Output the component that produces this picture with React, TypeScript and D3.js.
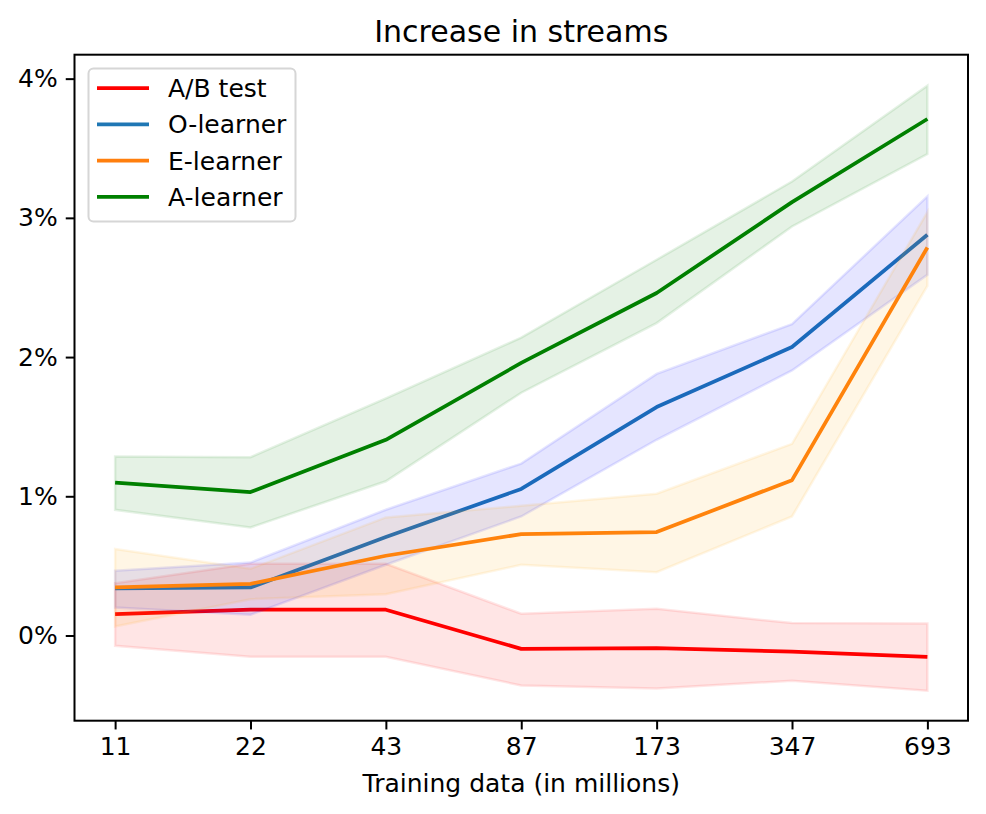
import { useEffect, useRef } from 'react';
import * as d3 from 'd3';

// Training data sizes (in millions), shown as evenly spaced categories
const sizes = ['11', '22', '43', '87', '173', '347', '693'];

// Mean increase in streams (%) and band bounds, per method
const abMean = [0.154, 0.185, 0.185, -0.096, -0.091, -0.115, -0.153];
const abLow = [-0.074, -0.153, -0.153, -0.359, -0.381, -0.325, -0.397];
const abHigh = [0.376, 0.515, 0.515, 0.156, 0.192, 0.089, 0.086];

const oMean = [0.338, 0.345, 0.707, 1.053, 1.641, 2.072, 2.879];
const oLow = [0.201, 0.149, 0.508, 0.855, 1.406, 1.904, 2.591];
const oHigh = [0.465, 0.524, 0.903, 1.235, 1.879, 2.237, 3.154];

const eMean = [0.345, 0.371, 0.573, 0.728, 0.743, 1.116, 2.787];
const eLow = [0.065, 0.261, 0.297, 0.508, 0.455, 0.855, 2.512];
const eHigh = [0.621, 0.479, 0.848, 0.932, 1.018, 1.377, 3.042];

const aMean = [1.099, 1.030, 1.406, 1.958, 2.460, 3.113, 3.710];
const aLow = [0.903, 0.776, 1.108, 1.744, 2.244, 2.938, 3.458];
const aHigh = [1.286, 1.281, 1.703, 2.140, 2.699, 3.261, 3.949];

const yTicks = [0, 1, 2, 3, 4];

const series = [
  { name: 'A/B test', line: '#ff0000', fill: '#ff0000', mean: abMean, low: abLow, high: abHigh },
  { name: 'O-learner', line: '#1f77b4', fill: '#0000ff', mean: oMean, low: oLow, high: oHigh },
  { name: 'E-learner', line: '#ff7f0e', fill: '#ffa500', mean: eMean, low: eLow, high: eHigh },
  { name: 'A-learner', line: '#008000', fill: '#008000', mean: aMean, low: aLow, high: aHigh },
];

const App = () => {
  const chartRef = useRef(null);
  const width = 986;
  const height = 814;
  const left = 74.5;
  const right = 968;
  const top = 54.7;
  const bottom = 720.7;
  const font = '"DejaVu Sans", sans-serif';

  useEffect(() => {
    const svg = d3.select(chartRef.current);
    svg.selectAll('*').remove();

    const x = d3.scaleLinear().domain([-0.3, sizes.length - 0.7]).range([left, right]);
    const y = d3.scaleLinear().domain([-0.612, 4.172]).range([bottom, top]);

    const line = d3.line<number>().x((_, i) => x(i)).y(d => y(d));

    // bands and lines
    series.forEach(s => {
      const area = d3.area<number>()
        .x((_, i) => x(i))
        .y0(d => y(d))
        .y1((_, i) => y(s.high[i]));

      svg.append('path')
        .attr('d', line(s.mean))
        .attr('fill', 'none')
        .attr('stroke', s.line)
        .attr('stroke-width', 3.75)
        .attr('stroke-linejoin', 'round');

      svg.append('path')
        .attr('d', area(s.low))
        .attr('fill', s.fill)
        .attr('fill-opacity', 0.1)
        .attr('stroke', s.fill)
        .attr('stroke-opacity', 0.1)
        .attr('stroke-width', 2.5);
    });

    // x axis
    const xAxis = svg.append('g')
      .attr('transform', `translate(0,${bottom})`)
      .call(d3.axisBottom(x)
        .tickValues(d3.range(sizes.length))
        .tickFormat(i => sizes[i as number])
        .tickSize(8.75)
        .tickPadding(8));
    xAxis.select('.domain').remove();

    // y axis
    const yAxis = svg.append('g')
      .attr('transform', `translate(${left},0)`)
      .call(d3.axisLeft(y)
        .tickValues(yTicks)
        .tickFormat(d => `${d}%`)
        .tickSize(8.75)
        .tickPadding(8));
    yAxis.select('.domain').remove();

    svg.selectAll('.tick line').attr('stroke', '#000').attr('stroke-width', 2);
    svg.selectAll('.tick text')
      .attr('fill', '#000')
      .style('font-family', font)
      .style('font-size', '25px');

    // frame
    svg.append('rect')
      .attr('x', left)
      .attr('y', top)
      .attr('width', right - left)
      .attr('height', bottom - top)
      .attr('fill', 'none')
      .attr('stroke', '#000')
      .attr('stroke-width', 2);

    // title and axis label
    svg.append('text')
      .attr('x', (left + right) / 2)
      .attr('y', 41.5)
      .attr('text-anchor', 'middle')
      .style('font-family', font)
      .style('font-size', '30px')
      .text('Increase in streams');

    svg.append('text')
      .attr('x', (left + right) / 2)
      .attr('y', 791.5)
      .attr('text-anchor', 'middle')
      .style('font-family', font)
      .style('font-size', '25px')
      .text('Training data (in millions)');

    // legend
    const legend = svg.append('g');
    legend.append('rect')
      .attr('x', 88.5)
      .attr('y', 68.5)
      .attr('width', 207)
      .attr('height', 153)
      .attr('rx', 5)
      .attr('fill', '#fff')
      .attr('fill-opacity', 0.8)
      .attr('stroke', '#d6d6d6')
      .attr('stroke-width', 2);

    series.forEach((s, i) => {
      const cy = 88 + i * 36.3;
      legend.append('line')
        .attr('x1', 97)
        .attr('x2', 149)
        .attr('y1', cy)
        .attr('y2', cy)
        .attr('stroke', s.line)
        .attr('stroke-width', 3.75);
      legend.append('text')
        .attr('x', 168)
        .attr('y', cy)
        .attr('dy', '0.36em')
        .style('font-family', font)
        .style('font-size', '25px')
        .text(s.name);
    });
  }, []);

  return (
    <svg
      ref={chartRef}
      width={width}
      height={height}
      viewBox={`0 0 ${width} ${height}`}
      style={{ position: 'absolute', left: 0, top: 0, background: '#fff' }}
    />
  );
};

export default App;
